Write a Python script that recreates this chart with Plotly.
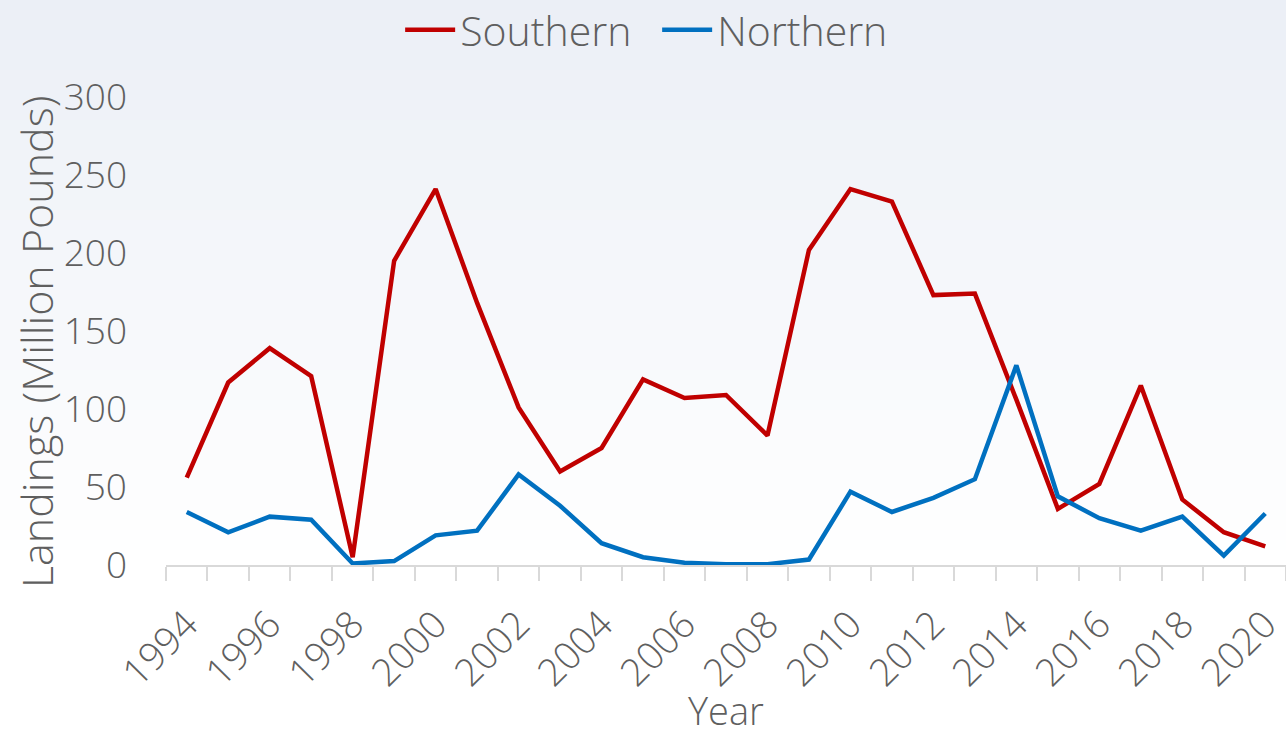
import plotly.graph_objects as go

# Annual landings, million pounds
years = list(range(1994, 2021))
southern = [56, 117, 139, 121, 5, 195, 241, 168, 101, 60, 75, 119, 107, 109,
            83, 202, 241, 233, 173, 174, 106, 36, 52, 115, 42, 21, 12]
northern = [34, 21, 31, 29, 1, 2.5, 19, 22, 58, 38, 14, 5, 1.5, 0.5, 0.5,
            3.5, 47, 34, 43, 55, 128, 44, 30, 22, 31, 6, 33]
label_years = years[::2]
y_ticks = [0, 50, 100, 150, 200, 250, 300]

W, H = 1286, 738
M_L, M_R, M_T, M_B = 166, 0, 97, 173
plot_h = H - M_T - M_B
plot_w = W - M_L - M_R


def px_x(px):
    """pixel column -> paper x"""
    return (px - M_L) / plot_w


def px_y(py):
    """pixel row -> paper y"""
    return (H - M_B - py) / plot_h


FONT = "Open Sans"
GREY = "#5f5f5f"
AXIS_GREY = "#D9D9D9"

fig = go.Figure()
fig.add_trace(go.Scatter(x=years, y=southern, mode="lines", name="Southern",
                         line=dict(color="#C00000", width=4.5)))
fig.add_trace(go.Scatter(x=years, y=northern, mode="lines", name="Northern",
                         line=dict(color="#0070C0", width=4.5)))

# soft vertical background gradient: pale blue-grey at top fading to white
shapes = []
n_bands = 56
fade_end = 560
top_rgb = (235, 239, 246)
for i in range(n_bands):
    py0 = fade_end * i / n_bands
    py1 = fade_end * (i + 1) / n_bands + 0.5
    t = (i + 0.5) / n_bands
    c = tuple(round(a + (255 - a) * t) for a in top_rgb)
    shapes.append(dict(type="rect", xref="paper", yref="paper", layer="below",
                       x0=px_x(0), x1=px_x(W) + 0.01,
                       y0=px_y(py1), y1=px_y(py0),
                       line=dict(width=0), fillcolor="rgb(%d,%d,%d)" % c))

annotations = [
    dict(text="Landings (Million Pounds)", textangle=-90, showarrow=False,
         xref="paper", yref="paper", x=px_x(36), y=px_y(342),
         xanchor="center", yanchor="middle",
         font=dict(size=43, color=GREY, family=FONT, weight=300)),
    dict(text="Year", showarrow=False,
         xref="paper", yref="paper", x=0.5, y=px_y(737),
         xanchor="center", yanchor="bottom", borderpad=0,
         font=dict(size=38, color=GREY, family=FONT, weight=300)),
]

fig.update_layout(
    width=W, height=H,
    margin=dict(l=M_L, r=M_R, t=M_T, b=M_B, autoexpand=False),
    paper_bgcolor="white",
    plot_bgcolor="rgba(0,0,0,0)",
    font=dict(family=FONT, color=GREY, size=36, weight=300),
    shapes=shapes,
    annotations=annotations,
    showlegend=True,
    legend=dict(orientation="h", xref="container", yref="container",
                x=0.511, xanchor="center", y=1 - 30 / H, yanchor="middle",
                font=dict(size=41, color=GREY, weight=300),
                bgcolor="rgba(0,0,0,0)",
                itemwidth=50, entrywidth=192, entrywidthmode="pixels",
                tracegroupgap=0),
    xaxis=dict(
        range=[years[0] - 0.5, years[-1] + 0.5],
        tickmode="array", tickvals=label_years,
        ticktext=[str(y) for y in label_years],
        tickangle=-45, ticks="", ticklabelstandoff=20,
        ticklabeloverflow="allow",
        tickfont=dict(size=38, color=GREY, weight=300),
        showline=True, linecolor=AXIS_GREY, linewidth=2,
        showgrid=False, zeroline=False,
        minor=dict(tickmode="array",
                   tickvals=[y - 0.5 for y in years] + [years[-1] + 0.5],
                   ticks="outside", ticklen=14, tickwidth=2,
                   tickcolor=AXIS_GREY, showgrid=False),
        automargin=False,
    ),
    yaxis=dict(
        range=[0, 300], tickmode="array", tickvals=y_ticks,
        ticks="", ticklabelstandoff=38,
        tickfont=dict(size=37, color=GREY, weight=300),
        showline=False, showgrid=False, zeroline=False,
        automargin=False,
    ),
)

fig.write_html("out.html")
